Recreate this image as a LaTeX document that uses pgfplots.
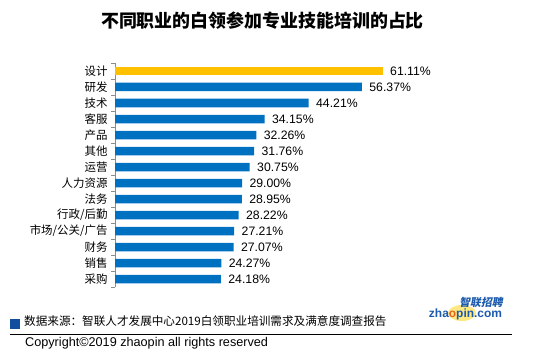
\documentclass[border=0pt]{standalone}
\usepackage{pgfplots}
\pgfplotsset{compat=1.18}
\usepackage{fontspec}
\setmainfont{Liberation Sans}
\newfontfamily\cjk{Noto Sans CJK SC}
\newfontfamily\cjksl[FakeSlant=0.2]{Noto Sans CJK SC}
\definecolor{barblue}{HTML}{0070C0}
\definecolor{bargold}{HTML}{FFC000}
\definecolor{srcblue}{RGB}{18,78,160}
\definecolor{logoblue}{RGB}{28,90,172}
\definecolor{logoorange}{RGB}{232,96,30}
\begin{document}
\begin{tikzpicture}[x=1bp,y=1bp]
\path[use as bounding box] (0,0) rectangle (540,361);
\node[font=\cjk\bfseries\fontsize{18}{18}\selectfont] at (262.5,340) {不同职业的白领参加专业技能培训的占比};
\begin{axis}[
  at={(115bp,74bp)}, anchor=south west,
  scale only axis, width=306.6bp, height=224bp,
  xmin=0, xmax=70, ymin=-0.5, ymax=13.5,
  hide x axis, axis y line*=left,
  axis line style={draw=gray!90},
  ytick={0,...,13},
  yticklabels={采购,销售,财务,市场/公关/广告,行政/后勤,法务,人力资源,运营,其他,产品,客服,技术,研发,设计},
  yticklabel style={font=\cjk\fontsize{11.5}{12}\selectfont, xshift=-4bp},
  major tick length=0pt,
  minor ytick={-0.5,0.5,...,13.5},
  minor tick length=4bp, tick align=outside,
  minor tick style={draw=gray!90},
  xbar, bar width=8.5bp, bar shift=0pt,
  point meta=x,
  nodes near coords={\pgfmathprintnumber[fixed,fixed zerofill,precision=2,assume math mode=true]{\pgfplotspointmeta}\%},
  nodes near coords style={font=\fontsize{12.3}{12}\selectfont, anchor=west, xshift=4bp, text=black},
  clip=false,
]
\addplot[draw=none, fill=bargold] coordinates {(61.11,13)};
\addplot[draw=none, fill=barblue] coordinates {
(56.37,12) (44.21,11) (34.15,10) (32.26,9) (31.76,8) (30.75,7) (29.00,6)
(28.95,5) (28.22,4) (27.21,3) (27.07,2) (24.27,1) (24.18,0)};
\end{axis}
\fill[srcblue] (10,32) rectangle (20,42.5);
\node[anchor=west, inner sep=0pt, font=\cjk\fontsize{11.65}{12}\selectfont] at (24,39.5) {数据来源：智联人才发展中心2019白领职业培训需求及满意度调查报告};
\draw[black, line width=0.9bp] (10,27) -- (512,27);
\node[anchor=west, inner sep=0pt, font=\fontsize{12.7}{12}\selectfont] at (25,17.5) {Copyright©2019 zhaopin all rights reserved};
\fill[yellow!70!orange, opacity=0.5] (462,48) ellipse (14 and 8);
\node[anchor=center, inner sep=0pt, text=logoblue, font=\cjksl\bfseries\fontsize{10.8}{11}\selectfont] at (481,59) {智联招聘};
\node[anchor=center, inner sep=0pt, text=logoblue, font=\bfseries\fontsize{12}{12}\selectfont] at (465.5,46.5) {zha{\color{logoorange}o}pin.com};
\end{tikzpicture}
\end{document}
